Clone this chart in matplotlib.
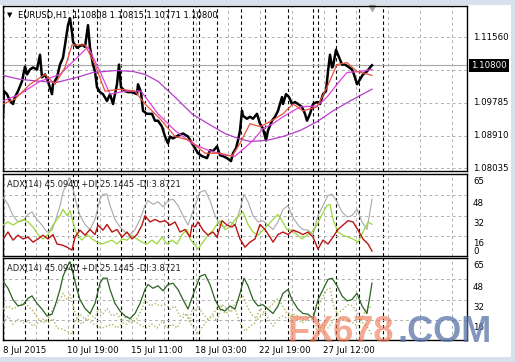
import matplotlib
matplotlib.use("Agg")
import matplotlib.pyplot as plt
import matplotlib.transforms as mtransforms
from matplotlib.patches import Rectangle

plt.rcParams['font.family'] = ['DejaVu Sans']

# ---- data (x = bar position on the H1 time axis) ----
price_bar = [3, 4, 7, 10, 13, 15, 18, 22, 25, 27,
             30, 33, 37, 40, 42, 45, 48, 52, 53, 57,
             60, 63, 65, 68, 70, 72, 73, 77, 82, 85,
             88, 90, 93, 95, 97, 100, 103, 107, 110, 113,
             117, 119, 121, 125, 128, 132, 137, 138, 141, 143,
             147, 152, 155, 158, 162, 165, 168, 170, 173, 178,
             183, 188, 192, 195, 198, 202, 207, 210, 213, 217,
             220, 223, 227, 231, 233, 236, 238, 240, 242, 243,
             247, 250, 253, 257, 260, 263, 266, 268, 272, 275,
             278, 282, 283, 286, 289, 292, 295, 298, 302, 305,
             307, 310, 313, 317, 320, 323, 326, 328, 330, 332,
             333, 336, 338, 342, 345, 348, 352, 354, 357, 360,
             363, 367, 370, 372]
price_close = [1.09414, 1.10103, 1.10023, 1.09838, 1.09758, 1.09944, 1.10103, 1.10368, 1.10765, 1.10553,
               1.10686, 1.10739, 1.10686, 1.11083, 1.10474, 1.10553, 1.10368, 1.10023, 1.10288, 1.10474,
               1.10818, 1.11004, 1.11348, 1.11878, 1.12064, 1.11693, 1.11428, 1.11269, 1.11348, 1.11295,
               1.11878, 1.11269, 1.10818, 1.10633, 1.10209, 1.10076, 1.10023, 1.09838, 1.10023, 1.09758,
               1.10288, 1.10818, 1.10209, 1.10103, 1.10076, 1.10076, 1.10023, 1.10288, 1.10076, 1.09573,
               1.09493, 1.09493, 1.09308, 1.09308, 1.09149, 1.08884, 1.08698, 1.08884, 1.08831, 1.08910,
               1.08963, 1.08884, 1.08698, 1.08566, 1.08433, 1.08354, 1.08301, 1.08513, 1.08486, 1.08619,
               1.08380, 1.08354, 1.08301, 1.08221, 1.08433, 1.08566, 1.08778, 1.09043, 1.09573, 1.09440,
               1.09361, 1.09414, 1.09361, 1.09493, 1.09228, 1.09096, 1.08778, 1.09043, 1.09308, 1.09414,
               1.09573, 1.09944, 1.09758, 1.10023, 1.09944, 1.09758, 1.09811, 1.09758, 1.09679, 1.09493,
               1.09308, 1.09493, 1.09758, 1.09811, 1.09758, 1.10023, 1.10103, 1.10633, 1.11083, 1.10739,
               1.10765, 1.11216, 1.11083, 1.10818, 1.10818, 1.10765, 1.10686, 1.10553, 1.10288, 1.10421,
               1.10553, 1.10633, 1.10739, 1.10800]

ma_slow_bar = [3, 20, 40, 57, 77, 93, 117, 133, 145, 158, 175, 192, 208, 225, 238, 250,
               267, 283, 300, 317, 333, 350, 372]
ma_slow = [1.10527, 1.10421, 1.10368, 1.10341, 1.10474, 1.10606, 1.10659, 1.10633, 1.10553,
           1.10368, 1.09944, 1.09493, 1.09228, 1.08963, 1.08831, 1.08751, 1.08778, 1.08884,
           1.09043, 1.09281, 1.09573, 1.09838, 1.10156]

ma_mid_bar = [3, 20, 40, 60, 73, 88, 100, 110, 125, 141, 158, 175, 192, 208, 225, 235,
              242, 253, 263, 273, 283, 300, 317, 327, 337, 347, 360, 372]
ma_mid = [1.09838, 1.10023, 1.10368, 1.10553, 1.10898, 1.11295, 1.10633, 1.10023, 1.10103,
          1.10103, 1.09493, 1.09043, 1.08698, 1.08513, 1.08380, 1.08354, 1.08513, 1.08778,
          1.09096, 1.09228, 1.09414, 1.09679, 1.09705, 1.09944, 1.10288, 1.10606, 1.10633,
          1.10686]

ma_fast_bar = [3, 15, 30, 45, 55, 65, 72, 85, 95, 105, 120, 135, 145, 160, 175, 190,
               205, 220, 232, 240, 250, 260, 270, 283, 293, 303, 317, 327, 337, 347, 357, 372]
ma_fast = [1.09758, 1.09891, 1.10288, 1.10553, 1.10288, 1.10739, 1.11348, 1.11348, 1.10818,
           1.10103, 1.10156, 1.10103, 1.09758, 1.09361, 1.08884, 1.08778, 1.08433, 1.08433,
           1.08354, 1.08698, 1.09228, 1.09149, 1.09281, 1.09493, 1.09758, 1.09573, 1.09679,
           1.10209, 1.10818, 1.10871, 1.10633, 1.10527]

adx_bar = [3, 8, 13, 18, 23, 28, 32, 37, 42, 47,
           52, 55, 60, 63, 67, 70, 73, 77, 80, 85,
           90, 95, 100, 103, 107, 110, 115, 120, 125, 130,
           135, 140, 145, 148, 153, 158, 163, 168, 173, 178,
           183, 188, 190, 195, 200, 205, 210, 215, 220, 225,
           230, 235, 240, 244, 248, 253, 258, 263, 268, 273,
           278, 283, 288, 292, 298, 303, 308, 313, 318, 323,
           328, 332, 337, 342, 347, 352, 357, 362, 367, 372]
adx = [46.6, 41, 32, 27, 28, 33, 35, 29, 24.5, 19,
       20.5, 27, 40, 50.5, 58, 62, 53, 40, 32, 25,
       21, 29, 45, 49, 49, 40, 29, 23, 19, 17,
       21, 29, 40, 44, 41, 43, 39, 44, 45, 40,
       32, 24.5, 29, 40, 50.5, 52, 44, 32, 24.5, 23,
       27, 24.5, 37, 49, 43, 32, 27, 28, 24.5, 21,
       27, 37, 40, 32, 24.5, 21, 20.5, 17, 32, 40,
       48, 49, 43, 35, 31, 32, 37, 27, 21, 45.09]

pdi_bar = [3, 8, 13, 18, 23, 28, 33, 38, 43, 48,
           53, 57, 60, 63, 67, 70, 73, 77, 82, 87,
           92, 97, 102, 107, 112, 117, 122, 127, 132, 137,
           142, 147, 152, 157, 162, 167, 172, 177, 182, 187,
           190, 195, 198, 203, 208, 213, 217, 220, 225, 230,
           235, 240, 243, 248, 253, 258, 263, 268, 273, 278,
           282, 287, 292, 297, 302, 307, 312, 317, 322, 327,
           330, 333, 338, 343, 348, 353, 358, 363, 368, 372]
plus_di = [24.5, 27, 24.5, 27, 29, 27, 23, 17, 13.5, 17,
           24.5, 29, 32, 37, 32, 36, 27, 16.5, 12.6, 17,
           13.5, 11, 9.5, 11, 12.6, 9.5, 13.5, 12.6, 16.5, 13.5,
           11, 9.5, 12.6, 9.5, 15, 9.5, 12.6, 9.5, 17, 21,
           13.5, 8.7, 5.5, 11, 16.5, 20.5, 25, 28, 21, 23,
           29, 33, 35, 25, 19, 16.5, 20.5, 24.5, 29, 33,
           28, 21, 20.5, 17, 13.5, 16.5, 19, 24.5, 33, 40,
           41, 29, 19, 16.5, 15, 13.5, 11, 19, 27, 25.14]

mdi_bar = [3, 8, 13, 18, 23, 28, 33, 38, 43, 48,
           53, 57, 62, 67, 72, 75, 80, 85, 90, 95,
           98, 103, 107, 112, 117, 122, 127, 132, 137, 142,
           145, 150, 155, 160, 165, 170, 175, 180, 185, 190,
           192, 195, 198, 203, 208, 213, 217, 222, 227, 232,
           235, 240, 245, 250, 255, 260, 265, 270, 273, 278,
           283, 288, 293, 298, 303, 308, 313, 318, 323, 328,
           333, 338, 343, 348, 353, 358, 363, 368, 372]
minus_di = [13.5, 19, 12.6, 16.5, 13.5, 15, 11, 13.5, 16.5, 13.5,
            17, 9.5, 8.7, 7, 4.7, 15, 20.5, 16.5, 21, 17,
            24.5, 20.5, 25, 19, 21, 15, 19, 13.5, 17, 24.5,
            32, 27, 29, 27, 28, 24.5, 27, 19, 21, 15,
            24.5, 23, 27, 20.5, 16.5, 19, 15, 28, 24.5, 23,
            25, 13.5, 7, 11, 13.5, 25, 21, 15, 11, 17,
            19, 17, 20.5, 19, 17, 19, 15, 5.5, 12.6, 9.5,
            15, 21, 24.5, 28, 27, 20.5, 13.5, 9.5, 3.87]

price_levels = [1.11560, 1.10685, 1.09785, 1.08910, 1.08035]
price_labels = ["1.11560", "1.10685", "1.09785", "1.08910", "1.08035"]
last_price = 1.10800
adx_levels = [65, 48, 32, 16]
date_bars = [3, 67, 131, 195, 259, 323]
date_labels = ["8 Jul 2015", "10 Jul 19:00", "15 Jul 11:00", "18 Jul 03:00",
               "22 Jul 19:00", "27 Jul 12:00"]
grid_bars = [4, 36, 68, 100, 132, 164, 196, 228, 260, 292, 324, 356, 388, 420, 452]
separator_bars = [25, 48, 73, 78, 97, 121, 145, 168, 193, 199, 217, 241, 265, 288,
                  313, 318, 336, 359, 383]

header = "EURUSD,H1  1.10808 1.10815 1.10771 1.10800"
adx_header = "ADX(14) 45.0940 +DI:25.1445 -DI:3.8721"

# ---- figure ----
W, H = 515, 362
fig = plt.figure(figsize=(W / 100, H / 100), dpi=100)
fig.patch.set_facecolor('#d8e1eb')
fig.patches.append(Rectangle((0, 1 - 357 / H), 511 / W, 352 / H, transform=fig.transFigure,
                             facecolor='white', edgecolor='none', zorder=-5))


def panel(top, bottom):
    ax = fig.add_axes([3 / W, 1 - bottom / H, 464 / W, (bottom - top) / H])
    ax.set_xlim(3, 467)
    ax.set_xticks([])
    ax.set_yticks([])
    for s in ax.spines.values():
        s.set_color('black')
        s.set_linewidth(1.0)
    for b in grid_bars:
        ax.axvline(b, color='#b0b0b0', lw=0.7, ls=(0, (3, 3)), zorder=1)
    for b in separator_bars:
        ax.axvline(b, color='black', lw=0.8, ls=(0, (3, 2.5)), zorder=1)
    return ax


ax0 = panel(6, 171)
ax1 = panel(174, 256)
ax2 = panel(258, 340)

# main price chart
ax0.set_ylim(1.07955, 1.12394)
for v in price_levels:
    ax0.axhline(v, color='#b0b0b0', lw=0.7, ls=(0, (3, 3)), zorder=1)
ax0.axhline(last_price, color='#a8a8a8', lw=0.8, zorder=2)
ax0.plot(price_bar, price_close, color='black', lw=1.8, zorder=3)
ax0.plot(ma_slow_bar, ma_slow, color='#b43cc8', lw=0.9, zorder=4)
ax0.plot(ma_mid_bar, ma_mid, color='#e040e0', lw=0.9, zorder=4)
ax0.plot(ma_fast_bar, ma_fast, color='#e8503c', lw=0.9, zorder=4)

tr0 = mtransforms.blended_transform_factory(ax0.transAxes, ax0.transData)
for v, lab in zip(price_levels, price_labels):
    ax0.text(1 + 6 / 464, v, lab, transform=tr0, fontsize=6.2, va='center', ha='left')
ax0.text(1 + 4 / 464, last_price, "1.10800", transform=tr0, fontsize=6.2, va='center',
         ha='left', color='white', zorder=10,
         bbox=dict(facecolor='black', edgecolor='none', pad=1.6))
ax0.text(4 / 464, 0.945, "\u25bc", transform=ax0.transAxes, fontsize=5, va='center')
ax0.text(15 / 464, 0.945, header, transform=ax0.transAxes, fontsize=6, va='center')
ax0.plot([372], [0.985], marker='v', color='#a8a8a8', ms=5, clip_on=False,
         transform=mtransforms.blended_transform_factory(ax0.transData, ax0.transAxes))

# ADX panels
for ax in (ax1, ax2):
    ax.set_ylim(0, 65)
    for v in adx_levels[1:]:
        ax.axhline(v, color='#b0b0b0', lw=0.7, ls=(0, (3, 3)), zorder=1)
    ax.text(4 / 464, 0.87, adx_header, transform=ax.transAxes, fontsize=6, va='center',
            color='#202020', zorder=6)
    tr = mtransforms.blended_transform_factory(ax.transAxes, ax.transData)
    tro = mtransforms.offset_copy(tr, fig=fig, x=0, y=-2.5, units='points')
    for v in adx_levels:
        ax.text(1 + 6 / 464, v, str(v), transform=tro, fontsize=6.2, va='top', ha='left')

ax1.text(1 + 6 / 464, 0, "0", transform=mtransforms.blended_transform_factory(
    ax1.transAxes, ax1.transData), fontsize=6.2, va='bottom', ha='left')

ax1.plot(adx_bar, adx, color='#a8a8a8', lw=0.8, zorder=3)
ax1.plot(pdi_bar, plus_di, color='#9ad83a', lw=0.9, zorder=4)
ax1.plot(mdi_bar, minus_di, color='#bb1414', lw=1.0, zorder=5)

ax2.plot(pdi_bar, plus_di, color='#b4b45a', lw=1.0, ls=(0, (1, 1.5)), zorder=3)
ax2.plot(mdi_bar, minus_di, color='#a8b868', lw=1.0, ls=(0, (1, 1.5)), zorder=3)
ax2.plot(adx_bar, adx, color='#2a6420', lw=0.9, zorder=4)

trd = mtransforms.blended_transform_factory(ax2.transData, ax2.transAxes)
for b, lab in zip(date_bars, date_labels):
    ax2.text(b, -0.125, lab, transform=trd, fontsize=6.2, va='center', ha='left')

# watermark
fig.text(288 / W, 1 - 342 / H, "FX678", fontsize=26, family='Liberation Sans',
         weight='bold', color='#f07a58', alpha=0.65, va='baseline', ha='left', zorder=20)
fig.text(397 / W, 1 - 342 / H, ".COM", fontsize=26, family='Liberation Sans',
         weight='bold', color='#5a74a8', alpha=0.75, va='baseline', ha='left', zorder=20)

fig.savefig("out.png", dpi=100, facecolor=fig.get_facecolor())
